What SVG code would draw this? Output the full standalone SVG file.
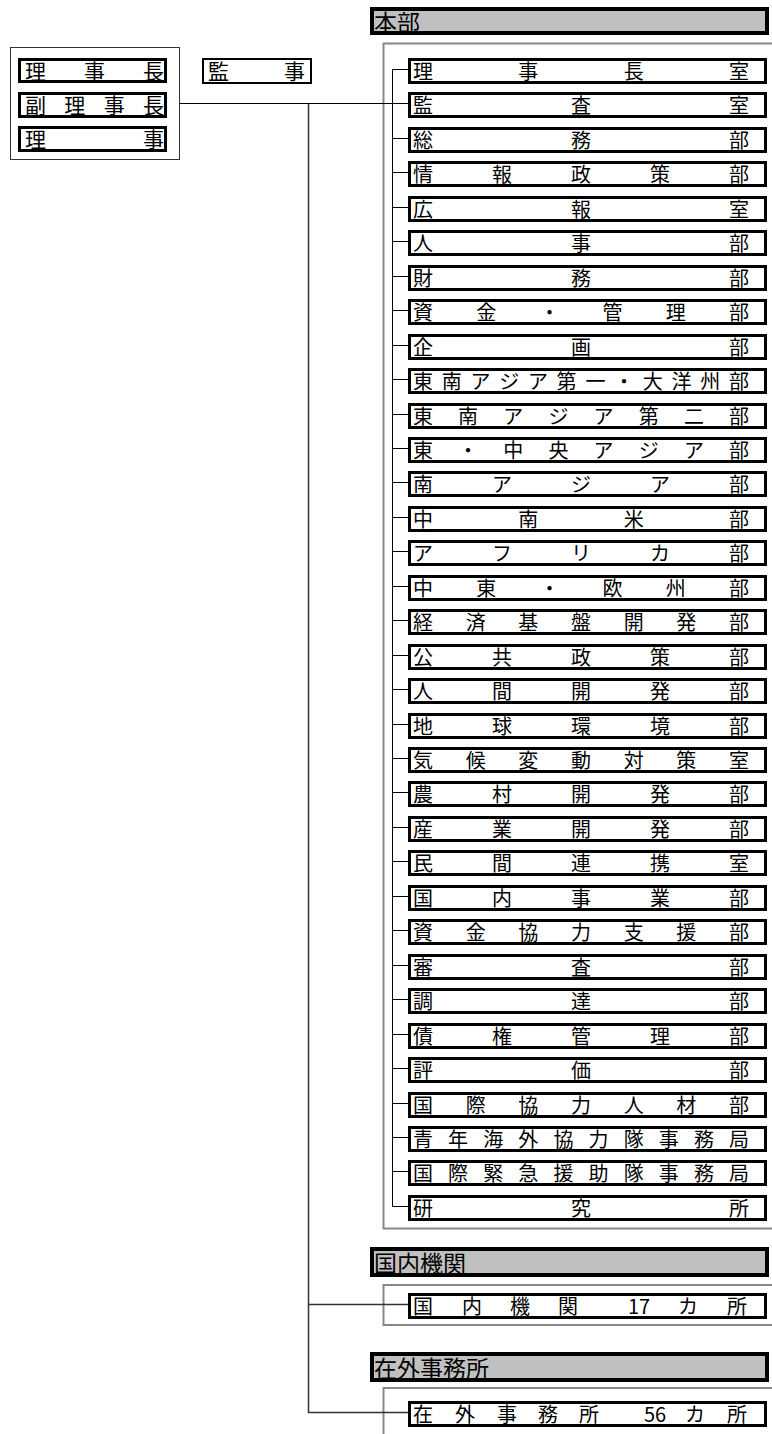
<svg xmlns="http://www.w3.org/2000/svg" width="772" height="1434" viewBox="0 0 772 1434">
<style>
.bg{fill:#fff}
.box{fill:#fff;stroke:#000;stroke-width:3}
.hdr{fill:#c0c0c0;stroke:#000;stroke-width:4}
.panel{fill:none;stroke:#888;stroke-width:2}
.t{font-family:"Noto Sans CJK JP","Noto Sans CJK SC",sans-serif;font-size:20px;fill:#000}
.lt{font-family:"Noto Sans CJK JP","Noto Sans CJK SC",sans-serif;font-size:21px;fill:#000}
.ht{font-family:"Noto Sans CJK JP","Noto Sans CJK SC",sans-serif;font-size:23px;fill:#000}
.ln{fill:none;stroke:#000;stroke-width:1}
.ln2{fill:none;stroke:#333;stroke-width:1.5}
</style>
<rect class="bg" x="0" y="0" width="772" height="1434"/>

<!-- panels -->
<g id="panels">
<rect class="panel" x="383.5" y="43.5" width="400" height="1185"/>
<rect class="panel" x="383.5" y="1285" width="400" height="40"/>
<rect class="panel" x="383.5" y="1388" width="400" height="100"/>
</g>

<!-- connectors -->
<g id="connectors">
<path class="ln" d="M180 103.5H408"/>
<path class="ln2" d="M308.5 104V1412.5H408M308.5 1304.5H408"/>
<path class="ln" d="M392.5 69.5V1206.5H408M392.5 69.5H408M392.5 138.5H408M392.5 172.5H408M392.5 207.5H408M392.5 241.5H408M392.5 276.5H408M392.5 310.5H408M392.5 345.5H408M392.5 379.5H408M392.5 414.5H408M392.5 448.5H408M392.5 482.5H408M392.5 517.5H408M392.5 551.5H408M392.5 586.5H408M392.5 620.5H408M392.5 655.5H408M392.5 689.5H408M392.5 724.5H408M392.5 758.5H408M392.5 792.5H408M392.5 827.5H408M392.5 861.5H408M392.5 896.5H408M392.5 930.5H408M392.5 965.5H408M392.5 999.5H408M392.5 1034.5H408M392.5 1068.5H408M392.5 1103.5H408M392.5 1137.5H408M392.5 1171.5H408"/>
</g>

<!-- executives -->
<g id="executives">
<rect x="10.5" y="47.5" width="169" height="112" fill="#fff" stroke="#333" stroke-width="1"/>
</g>
<g id="rijicho"><rect class="box" x="19.5" y="59.5" width="146" height="22"/><text class="lt" x="25 84 143" y="79">理事長</text></g>
<g id="fukurijicho"><rect class="box" x="19.5" y="93.5" width="146" height="23"/><text class="lt" x="25 64.3 103.7 143" y="113">副理事長</text></g>
<g id="riji"><rect class="box" x="19.5" y="127.5" width="146" height="23"/><text class="lt" x="25 143" y="147">理事</text></g>
<g id="kanji"><rect x="203" y="59" width="108" height="24" fill="#fff" stroke="#000" stroke-width="2"/><text class="lt" x="208 284" y="79">監事</text></g>

<!-- headers -->
<g id="hdr-honbu"><rect class="hdr" x="372" y="9" width="395" height="24"/><text class="ht" x="374" y="31">本部</text></g>
<g id="hdr-kokunai"><rect class="hdr" x="372" y="1249" width="395" height="26"/><text class="ht" x="374" y="1272">国内機関</text></g>
<g id="hdr-zaigai"><rect class="hdr" x="372" y="1354" width="395" height="26"/><text class="ht" x="374" y="1377">在外事務所</text></g>

<!-- rows -->
<g id="r01"><rect class="box" x="409.5" y="59.5" width="356" height="23"/><text class="t" x="413 518.3 623.7 729" y="79">理事長室</text></g>
<g id="r02"><rect class="box" x="409.5" y="93.5" width="356" height="23"/><text class="t" x="413 571 729" y="113">監査室</text></g>
<g id="r03"><rect class="box" x="409.5" y="128.5" width="356" height="23"/><text class="t" x="413 571 729" y="148">総務部</text></g>
<g id="r04"><rect class="box" x="409.5" y="162.5" width="356" height="23"/><text class="t" x="413 492 571 650 729" y="182">情報政策部</text></g>
<g id="r05"><rect class="box" x="409.5" y="197.5" width="356" height="23"/><text class="t" x="413 571 729" y="217">広報室</text></g>
<g id="r06"><rect class="box" x="409.5" y="231.5" width="356" height="23"/><text class="t" x="413 571 729" y="251">人事部</text></g>
<g id="r07"><rect class="box" x="409.5" y="266.5" width="356" height="23"/><text class="t" x="413 571 729" y="286">財務部</text></g>
<g id="r08"><rect class="box" x="409.5" y="300.5" width="356" height="23"/><text class="t" x="413 476.2 539.4 602.6 665.8 729" y="320">資金・管理部</text></g>
<g id="r09"><rect class="box" x="409.5" y="335.5" width="356" height="23"/><text class="t" x="413 571 729" y="355">企画部</text></g>
<g id="r10"><rect class="box" x="409.5" y="369.5" width="356" height="23"/><text class="t" x="413 441.7 470.5 499.2 527.9 556.6 585.4 614.1 642.8 671.5 700.3 729" y="389">東南アジア第一・大洋州部</text></g>
<g id="r11"><rect class="box" x="409.5" y="404.5" width="356" height="23"/><text class="t" x="413 458.1 503.3 548.4 593.6 638.7 683.9 729" y="424">東南アジア第二部</text></g>
<g id="r12"><rect class="box" x="409.5" y="438.5" width="356" height="23"/><text class="t" x="413 458.1 503.3 548.4 593.6 638.7 683.9 729" y="458">東・中央アジア部</text></g>
<g id="r13"><rect class="box" x="409.5" y="472.5" width="356" height="23"/><text class="t" x="413 492 571 650 729" y="492">南アジア部</text></g>
<g id="r14"><rect class="box" x="409.5" y="507.5" width="356" height="23"/><text class="t" x="413 518.3 623.7 729" y="527">中南米部</text></g>
<g id="r15"><rect class="box" x="409.5" y="541.5" width="356" height="23"/><text class="t" x="413 492 571 650 729" y="561">アフリカ部</text></g>
<g id="r16"><rect class="box" x="409.5" y="576.5" width="356" height="23"/><text class="t" x="413 476.2 539.4 602.6 665.8 729" y="596">中東・欧州部</text></g>
<g id="r17"><rect class="box" x="409.5" y="610.5" width="356" height="23"/><text class="t" x="413 465.7 518.3 571 623.7 676.3 729" y="630">経済基盤開発部</text></g>
<g id="r18"><rect class="box" x="409.5" y="645.5" width="356" height="23"/><text class="t" x="413 492 571 650 729" y="665">公共政策部</text></g>
<g id="r19"><rect class="box" x="409.5" y="679.5" width="356" height="23"/><text class="t" x="413 492 571 650 729" y="699">人間開発部</text></g>
<g id="r20"><rect class="box" x="409.5" y="714.5" width="356" height="23"/><text class="t" x="413 492 571 650 729" y="734">地球環境部</text></g>
<g id="r21"><rect class="box" x="409.5" y="748.5" width="356" height="23"/><text class="t" x="413 465.7 518.3 571 623.7 676.3 729" y="768">気候変動対策室</text></g>
<g id="r22"><rect class="box" x="409.5" y="782.5" width="356" height="23"/><text class="t" x="413 492 571 650 729" y="802">農村開発部</text></g>
<g id="r23"><rect class="box" x="409.5" y="817.5" width="356" height="23"/><text class="t" x="413 492 571 650 729" y="837">産業開発部</text></g>
<g id="r24"><rect class="box" x="409.5" y="851.5" width="356" height="23"/><text class="t" x="413 492 571 650 729" y="871">民間連携室</text></g>
<g id="r25"><rect class="box" x="409.5" y="886.5" width="356" height="23"/><text class="t" x="413 492 571 650 729" y="906">国内事業部</text></g>
<g id="r26"><rect class="box" x="409.5" y="920.5" width="356" height="23"/><text class="t" x="413 465.7 518.3 571 623.7 676.3 729" y="940">資金協力支援部</text></g>
<g id="r27"><rect class="box" x="409.5" y="955.5" width="356" height="23"/><text class="t" x="413 571 729" y="975">審査部</text></g>
<g id="r28"><rect class="box" x="409.5" y="989.5" width="356" height="23"/><text class="t" x="413 571 729" y="1009">調達部</text></g>
<g id="r29"><rect class="box" x="409.5" y="1024.5" width="356" height="23"/><text class="t" x="413 492 571 650 729" y="1044">債権管理部</text></g>
<g id="r30"><rect class="box" x="409.5" y="1058.5" width="356" height="23"/><text class="t" x="413 571 729" y="1078">評価部</text></g>
<g id="r31"><rect class="box" x="409.5" y="1093.5" width="356" height="23"/><text class="t" x="413 465.7 518.3 571 623.7 676.3 729" y="1113">国際協力人材部</text></g>
<g id="r32"><rect class="box" x="409.5" y="1127.5" width="356" height="23"/><text class="t" x="413 448.1 483.2 518.3 553.4 588.6 623.7 658.8 693.9 729" y="1147">青年海外協力隊事務局</text></g>
<g id="r33"><rect class="box" x="409.5" y="1161.5" width="356" height="23"/><text class="t" x="413 448.1 483.2 518.3 553.4 588.6 623.7 658.8 693.9 729" y="1181">国際緊急援助隊事務局</text></g>
<g id="r34"><rect class="box" x="409.5" y="1196.5" width="356" height="23"/><text class="t" x="413 571 729" y="1216">研究所</text></g>

<g id="kokunai-row"><rect class="box" x="409.5" y="1294.5" width="356" height="23"/><text class="t" y="1314"><tspan x="413">国</tspan><tspan x="462">内</tspan><tspan x="510">機</tspan><tspan x="558">関</tspan><tspan x="628">17</tspan><tspan x="678">カ</tspan><tspan x="727">所</tspan></text></g>
<g id="zaigai-row"><rect class="box" x="409.5" y="1402.5" width="356" height="23"/><text class="t" y="1422"><tspan x="413">在</tspan><tspan x="455">外</tspan><tspan x="497">事</tspan><tspan x="538">務</tspan><tspan x="579">所</tspan><tspan x="644">56</tspan><tspan x="685">カ</tspan><tspan x="727">所</tspan></text></g>
</svg>
